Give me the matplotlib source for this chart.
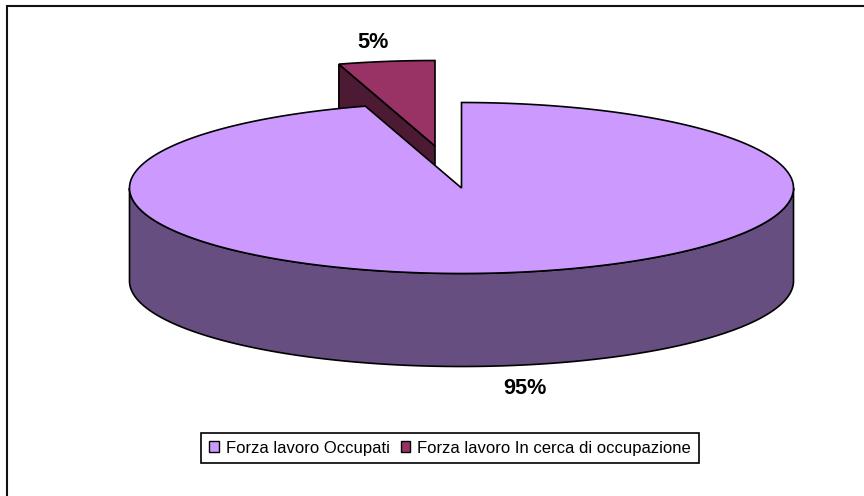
#!/usr/bin/env python3
"""Exploded 3D-look pie of the labour force, drawn by hand since matplotlib has no 3D pie."""

import matplotlib

matplotlib.use("Agg")

import matplotlib.pyplot as plt
import numpy as np
from matplotlib.patches import Patch, Polygon

categories = ["Forza lavoro Occupati", "Forza lavoro In cerca di occupazione"]
shares = [95, 5]
colors = ["#CC99FF", "#993366"]
side_colors = ["#664F80", "#4C1A33"]

# Everything below is in image pixels, y pointing down.
CX, CY = 461.5, 188
RX, RY = 332, 85.5
DEPTH = 93
EXPLODE = (-26.5, -42)
# Excel's perspective squeezes angles a bit near the top of the ellipse.
ANGLE_SQUEEZE = 0.935


def rim(cx, cy, t):
    """Points on the pie rim for angles t in degrees (90 = top, clockwise falling)."""
    r = np.radians(t)
    return np.column_stack([cx + RX * np.cos(r), cy - RY * np.sin(r)])


plt.rcParams["font.family"] = ["Liberation Sans", "DejaVu Sans"]

fig = plt.figure(figsize=(8.64, 4.96), dpi=100)
ax = fig.add_axes([0, 0, 1, 1])
ax.set_xlim(0, 864)
ax.set_ylim(496, 0)
ax.axis("off")

# only the top and left edges of the chart frame show up in the picture
ax.plot([7, 7, 864], [496, 6, 6], color="#111111", lw=1.5, zorder=1, solid_joinstyle="miter")

small_sweep = 360 * shares[1] / sum(shares) * ANGLE_SQUEEZE
split = 90 + small_sweep

# small slice first, the big one covers most of its walls
sx, sy = CX + EXPLODE[0], CY + EXPLODE[1]
small_arc = rim(sx, sy, np.linspace(90, split, 20))
tip = np.array([[sx, sy]])
wall_end = small_arc[-1]
ax.add_patch(Polygon(
    [wall_end, tip[0], tip[0] + [0, DEPTH], wall_end + [0, DEPTH]],
    closed=True, fc=side_colors[1], ec="black", lw=1.2, zorder=2,
))
ax.add_patch(Polygon(np.vstack([tip, small_arc]), closed=True,
                     fc=colors[1], ec="black", lw=1.2, zorder=3))

# big slice: side wall along the front half, then the top face
front = rim(CX, CY, np.linspace(180, 360, 200))
wall = np.vstack([front, (front + [0, DEPTH])[::-1]])
ax.add_patch(Polygon(wall, closed=True, fc=side_colors[0], ec="black", lw=1.2, zorder=4))
big_arc = rim(CX, CY, np.linspace(split, 450, 400))
ax.add_patch(Polygon(np.vstack([[[CX, CY]], big_arc]), closed=True,
                     fc=colors[0], ec="black", lw=1.2, zorder=5))

ax.text(372.5, 42, f"{shares[1]}%", fontsize=15.6, fontweight="bold", ha="center", va="center", zorder=6)
ax.text(524.5, 389, f"{shares[0]}%", fontsize=15.6, fontweight="bold", ha="center", va="center", zorder=6)

handles = [Patch(fc=c, ec="black", lw=1.0) for c in colors]
leg = ax.legend(
    handles, categories, loc="center", bbox_to_anchor=(450 / 864, 1 - 448 / 496),
    ncol=2, fontsize=12, frameon=True, fancybox=False, framealpha=1, edgecolor="black",
    handlelength=0.58, handleheight=0.58, handletextpad=0.42, columnspacing=0.66,
    borderpad=0.46, borderaxespad=0,
)
leg.get_frame().set_linewidth(1.2)

fig.savefig("out.png", dpi=100)
